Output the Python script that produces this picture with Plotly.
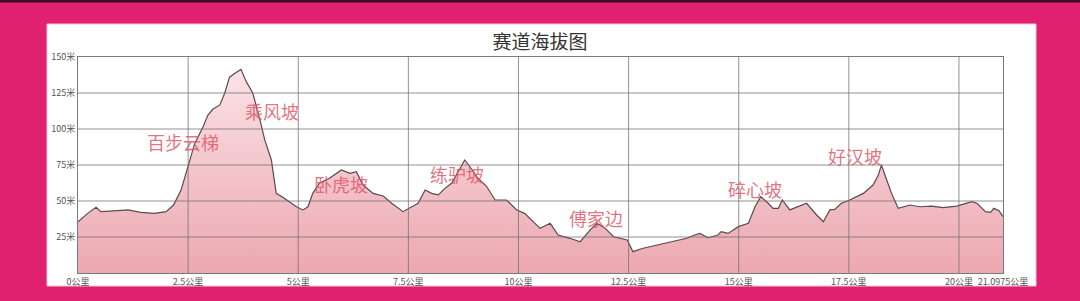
import plotly.graph_objects as go

# distance along the course (km) and elevation (m)
distance_km = [0.0, 0.22, 0.41, 0.52, 0.9, 1.13, 1.43, 1.74, 2.0, 2.17, 2.34, 2.49, 2.65, 2.84, 2.95,
               3.06, 3.22, 3.33, 3.44, 3.58, 3.70, 3.82, 3.97, 4.13, 4.24, 4.39, 4.5, 4.65, 4.8, 4.96,
               5.11, 5.22, 5.33, 5.48, 5.71, 5.98, 6.17, 6.32, 6.47, 6.70, 6.93, 7.12, 7.38, 7.57, 7.72,
               7.88, 8.03, 8.18, 8.33, 8.48, 8.67, 8.78, 8.90, 9.08, 9.27, 9.47, 9.73, 9.81, 9.96, 10.14,
               10.3, 10.49, 10.72, 10.9, 11.17, 11.4, 11.63, 11.78, 11.97, 12.16, 12.47, 12.6, 12.83,
               13.14, 13.52, 13.82, 14.0, 14.12, 14.3, 14.53, 14.6, 14.76, 14.99, 15.22, 15.37, 15.5,
               15.67, 15.78, 15.9, 15.99, 16.16, 16.35, 16.54, 16.77, 16.92, 17.07, 17.18, 17.33, 17.52,
               17.83, 18.05, 18.17, 18.24, 18.36, 18.47, 18.62, 18.89, 19.11, 19.38, 19.64, 19.95, 20.29,
               20.41, 20.6, 20.72, 20.79, 20.91, 21.0]
elevation_m = [35.6, 41.4, 45.6, 42.6, 43.3, 43.8, 42.1, 41.4, 42.6, 47.2, 57.6, 73.8, 90, 101.6, 109.7,
               113.7, 116.7, 124.8, 136, 139, 141.4, 132.9, 124.8, 106.3, 92.4, 78.5, 55.3, 52.6, 49.5, 46,
               43.8, 46, 55.3, 62.3, 65.8, 71.5, 69.2, 70.4, 61.1, 55.3, 53.5, 48.4, 42.6, 46, 48.4,
               57.6, 55.3, 54.2, 58.8, 62.3, 72.7, 78.5, 73.8, 65.8, 60.4, 50.7, 50.7, 48.4, 43.8, 41.4,
               36.8, 31, 34.5, 26.4, 24.1, 21.7, 29.9, 34.5, 31, 25.2, 22.9, 14.8, 17.2,
               19.4, 21.7, 24.1, 26.4, 27.5, 24.5, 26.4, 28.7, 27.5, 32.2, 34.5, 46, 53,
               48.4, 44.9, 44.9, 50.7, 43.8, 46, 48.4, 40.3, 35.6, 43.8, 44.2, 48.4, 50.7,
               55.3, 61.1, 68, 75, 64.6, 55.3, 44.9, 47.2, 46, 46.5, 45.4, 46.5, 49.5,
               48.4, 42.6, 42.1, 44.9, 43.3, 39.1]

# axis ticks
x_tick_vals = [0, 2.5, 5, 7.5, 10, 12.5, 15, 17.5, 20, 21]
x_tick_text = ["0公里", "2.5公里", "5公里", "7.5公里", "10公里", "12.5公里", "15公里",
               "17.5公里", "20公里", "21.0975公里"]
y_tick_vals = [25, 50, 75, 100, 125, 150]
y_tick_text = ["25米", "50米", "75米", "100米", "125米", "150米"]

# named climbs
climb_names = ["百步云梯", "乘风坡", "卧虎坡", "练驴坡", "傅家边", "碎心坡", "好汉坡"]
climb_x = [2.39, 4.40, 5.98, 8.61, 11.76, 15.36, 17.64]
climb_y = [91, 112.5, 61.8, 68.8, 37.9, 58.3, 81.3]

W, H = 1080, 301
ML, MR, MT, MB = 78, 77, 57, 28
PW, PH = W - ML - MR, H - MT - MB
X_RANGE = [0, 21]
Y_RANGE = [0, 150]

def px_x(p):
    return (p - ML) / PW

def px_y(p):
    return (H - MB - p) / PH

CJK = "Noto Sans CJK SC"
GRID = "rgba(110,110,110,0.75)"

fig = go.Figure()
fig.add_trace(go.Scatter(
    x=distance_km, y=elevation_m, mode="lines",
    line=dict(color="#5a4a4d", width=1.2),
    fill="tozeroy",
    fillgradient=dict(type="vertical",
                      colorscale=[[0, "#eca8b0"], [1, "#fbe6e9"]],
                      start=0, stop=150),
    hoverinfo="skip", showlegend=False,
))

for name, cx, cy in zip(climb_names, climb_x, climb_y):
    fig.add_annotation(x=cx, y=cy, text=name, showarrow=False,
                       font=dict(family=CJK, size=18, color="rgba(222,90,108,0.85)"),
                       xanchor="center", yanchor="middle")

shapes = [
    # white card
    dict(type="rect", xref="paper", yref="paper",
         x0=px_x(47), x1=px_x(1036), y0=px_y(286), y1=px_y(24),
         fillcolor="white", line=dict(color="#f4c7d8", width=1), layer="below"),
    # dark top strip
    dict(type="rect", xref="paper", yref="paper",
         x0=px_x(0), x1=px_x(W), y0=px_y(2.5), y1=px_y(0),
         fillcolor="#3a0c20", line=dict(width=0), layer="below"),
]
# grid lines drawn above the filled area, at the tick positions
for xv in x_tick_vals[1:-1]:
    shapes.append(dict(type="line", xref="x", yref="y", x0=xv, x1=xv, y0=Y_RANGE[0], y1=Y_RANGE[1],
                       line=dict(color=GRID, width=1), layer="above"))
for yv in y_tick_vals[:-1]:
    shapes.append(dict(type="line", xref="x", yref="y", x0=X_RANGE[0], x1=X_RANGE[1], y0=yv, y1=yv,
                       line=dict(color=GRID, width=1), layer="above"))

fig.update_layout(
    width=W, height=H,
    margin=dict(l=ML, r=MR, t=MT, b=MB),
    paper_bgcolor="#df216f",
    plot_bgcolor="white",
    shapes=shapes,
    title=dict(text="赛道海拔图", x=0.5, xanchor="center", y=1 - 42 / H, yanchor="middle",
               font=dict(family=CJK, size=19, color="#333333")),
    xaxis=dict(range=X_RANGE, tickvals=x_tick_vals, ticktext=x_tick_text,
               showgrid=False, layer="above traces",
               showline=True, linecolor="#7a7a7a", linewidth=1, mirror=True,
               zeroline=False, ticks="",
               tickfont=dict(family=CJK, size=9, color="#555555")),
    yaxis=dict(range=Y_RANGE, tickvals=y_tick_vals, ticktext=y_tick_text,
               showgrid=False, layer="above traces",
               showline=True, linecolor="#7a7a7a", linewidth=1, mirror=True,
               zeroline=False, ticks="",
               tickfont=dict(family=CJK, size=9, color="#555555")),
)

fig.write_html("out.html")
